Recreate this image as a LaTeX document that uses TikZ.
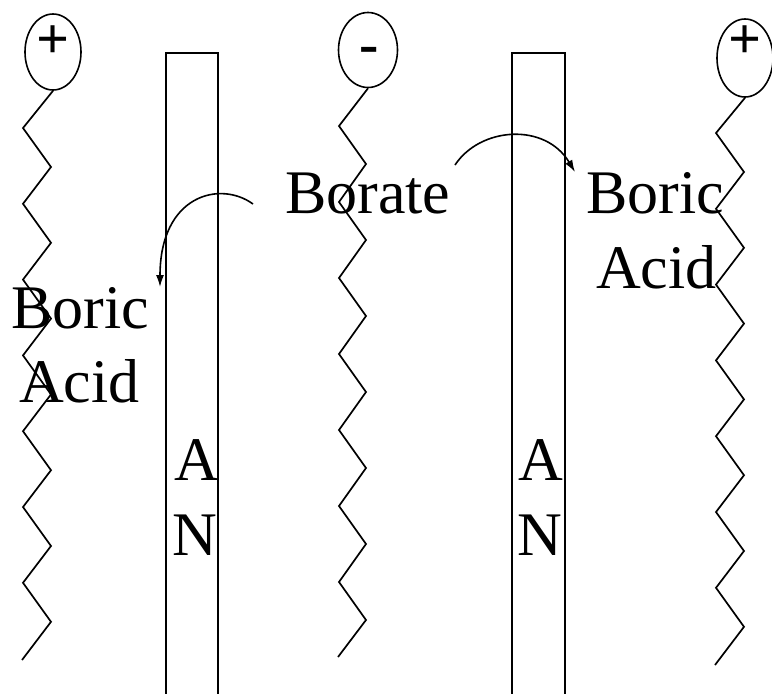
\documentclass[tikz,border=0pt]{standalone}
\usepackage{fontspec}
\setmainfont{Liberation Serif}
\usetikzlibrary{shapes.geometric,arrows.meta}
\tikzset{
  head/.style={ellipse,draw,line width=1.6pt,inner sep=0pt},
  chain/.style={line width=1.7pt,line join=miter},
  wall/.style={line width=1.6pt},
  big/.style={inner sep=0pt,font=\fontsize{62}{74}\selectfont},
  sign/.style={inner sep=0pt,font=\bfseries\fontsize{58}{70}\selectfont},
  flow/.style={line width=1.6pt,-{Latex[length=12pt,width=8pt]}}
}
\begin{document}
\begin{tikzpicture}[x=1pt,y=-1pt]
\useasboundingbox (0,0) rectangle (772,694);
% heads
\node[head,minimum width=56pt,minimum height=76pt] (h1) at (53,52) {};
\node[head,minimum width=59pt,minimum height=75pt] (h2) at (368,50) {};
\node[head,minimum width=56pt,minimum height=78pt] (h3) at (745,58) {};
\node[sign,anchor=base] (s1) at (53,58) {+};
\node[sign,anchor=base] (s2) at (369,63) {-};
\node[sign,anchor=base] (s3) at (745,58) {+};
% zigzag tails
\draw[chain] (h1.south) \foreach \k in {0,...,6} { -- (23,128+75.8*\k) -- (51,167+75.8*\k) } -- (22,660);
\draw[chain] (h2.south) \foreach \k in {0,...,6} { -- (339,126+76*\k) -- (366,164+76*\k) } -- (338,657);
\draw[chain] (h3.south) \foreach \k in {0,...,6} { -- (716,133+75.8*\k) -- (744,172+75.8*\k) } -- (715,665);
% channels
\draw[wall] (166,700) -- (166,53) -- (218,53) -- (218,700);
\draw[wall] (512,700) -- (512,53) -- (565,53) -- (565,700);
% labels
\node[big,anchor=base west] (bor) at (285,213) {Borate};
\node[big,anchor=base west] (bl1) at (11,328) {Boric};
\node[big,anchor=base west] (bl2) at (19,402) {Acid};
\node[big,anchor=base west] (br1) at (586,213) {Boric};
\node[big,anchor=base west] (br2) at (596,288) {Acid};
\node[big,anchor=base west] (a1) at (174,480) {A};
\node[big,anchor=base west] (n1) at (172,555) {N};
\node[big,anchor=base west] (a2) at (518,480) {A};
\node[big,anchor=base west] (n2) at (517,555) {N};
% arrows
\coordinate (ls) at (253,204);
\coordinate (le) at (160,287);
\coordinate (rs) at (455,165);
\coordinate (re) at (575,172);
\draw[flow] (ls) .. controls (220,180) and (160,195) .. (le);
\draw[flow] (rs) .. controls (480,127) and (545,122) .. (re);
\end{tikzpicture}
\end{document}
